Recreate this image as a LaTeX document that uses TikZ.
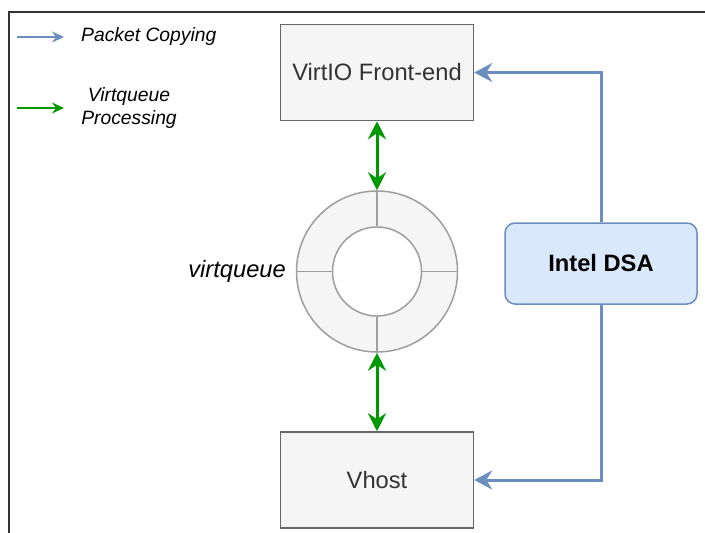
\documentclass[tikz,border=0pt]{standalone}
\usepackage{fontspec}
\setmainfont{Liberation Sans}
\usetikzlibrary{arrows.meta}
\definecolor{boxfill}{HTML}{F5F5F5}
\definecolor{boxline}{HTML}{666666}
\definecolor{ringline}{HTML}{9E9E9E}
\definecolor{dsafill}{HTML}{DAE8FC}
\definecolor{dsaline}{HTML}{6C8EBF}
\definecolor{vqgreen}{HTML}{009900}
\definecolor{txtgray}{HTML}{333333}
\tikzset{
  graybox/.style={draw=boxline, fill=boxfill, line width=1.5pt, minimum width=193pt, minimum height=96pt, inner sep=0pt, text=txtgray, font=\fontsize{23.7}{28}\selectfont},
  dsabox/.style={draw=dsaline, fill=dsafill, line width=1.5pt, rounded corners=10pt, minimum width=192pt, minimum height=81pt, inner sep=0pt, font=\fontsize{23.7}{28}\selectfont\bfseries},
  copyline/.style={draw=dsaline, line width=3pt, -{Stealth[length=18pt, width=19pt, inset=6pt]}},
  vqline/.style={draw=vqgreen, line width=3pt, {Stealth[length=18pt, width=18pt, inset=6pt]}-{Stealth[length=18pt, width=18pt, inset=6pt]}},
  legtext/.style={font=\fontsize{19.3}{22.5}\selectfont\itshape, inner sep=0pt},
}
\begin{document}
\begin{tikzpicture}[x=1pt, y=-1pt]
\useasboundingbox (0,0) rectangle (705,533);
% frame
\draw[draw=txtgray, line width=1.5pt] (9,533) -- (9,12) -- (705,12);
% legend
\coordinate (l1a) at (17,37);
\coordinate (l1b) at (64,37);
\draw[draw=dsaline, line width=1.5pt, -{Stealth[length=12pt, width=11pt, inset=4pt]}] (l1a) -- (l1b);
\node[legtext, anchor=west] (legcopy) at (81,37) {Packet Copying};
\coordinate (l2a) at (17,108);
\coordinate (l2b) at (64,108);
\draw[draw=vqgreen, line width=1.5pt, -{Stealth[length=12pt, width=11pt, inset=4pt]}] (l2a) -- (l2b);
\node[legtext, align=center] (legvq) at (129,108) {Virtqueue\\Processing};
% boxes
\node[graybox] (virtio) at (377,72.5) {VirtIO Front-end};
\node[graybox] (vhost) at (377,480) {Vhost};
\node[dsabox] (dsa) at (601,263.5) {Intel DSA};
% ring
\node[circle, draw=ringline, fill=boxfill, line width=1.5pt, minimum size=161pt, inner sep=0pt] (ring) at (377,271.5) {};
\node[circle, draw=ringline, fill=white, line width=1.5pt, minimum size=89pt, inner sep=0pt] (hole) at (377,271.5) {};
\draw[draw=ringline, line width=1.5pt] (ring.north) -- (hole.north);
\draw[draw=ringline, line width=1.5pt] (ring.south) -- (hole.south);
\draw[draw=ringline, line width=1.5pt] (ring.west) -- (hole.west);
\draw[draw=ringline, line width=1.5pt] (ring.east) -- (hole.east);
\node[font=\fontsize{23.7}{28}\selectfont\itshape, anchor=east, inner sep=0pt] (vqlabel) at (286,271.5) {virtqueue};
% connectors
\draw[vqline] (virtio.south) -- (ring.north);
\draw[vqline] (ring.south) -- (vhost.north);
\draw[copyline] (dsa.north) |- (virtio.east);
\draw[copyline] (dsa.south) |- (vhost.east);
\end{tikzpicture}
\end{document}
